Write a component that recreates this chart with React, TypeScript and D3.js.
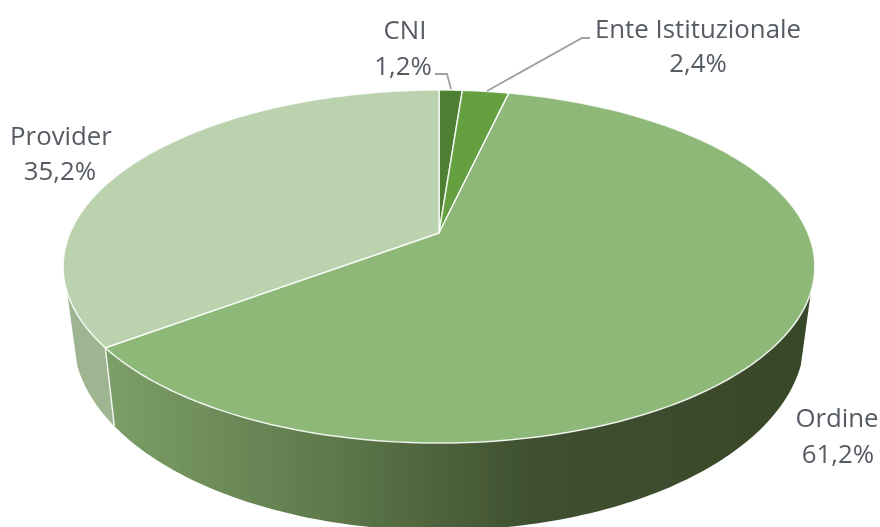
import React from "react";
import * as d3 from "d3";

const categories = ["CNI", "Ente Istituzionale", "Ordine", "Provider"];
const values = [1.2, 2.4, 61.2, 35.2];
const valueLabels = ["1,2%", "2,4%", "61,2%", "35,2%"];
const colors = ["#4f7f30", "#65a03f", "#8db878", "#bad2ae"];
const labelPos: [number, number, number, number][] = [
  [405, 39, 403, 75],
  [698, 38, 698, 72],
  [837, 427, 838, 463],
  [61, 145, 60, 180],
];

const W = 880, H = 527;
const CX = 439, D = 369, A = 125.9, B = 233, C = -0.19;
const SX = 0.973, SY = 1.095, OY = 45.3;
const WALL_START = (109 * Math.PI) / 180;
const WALL_END = (251 * Math.PI) / 180;

type P = [number, number];
const top = (t: number): P => {
  const u = -Math.cos(t);
  const w = 1 + C * u;
  return [CX + (D * Math.sin(t)) / w, (A * u + B) / w];
};
const bottom = (t: number): P => {
  const [x, y] = top(t);
  return [CX + (x - CX) * SX, y * SY + OY];
};
const line = d3.line<P>();
const samples = (a: number, b: number) =>
  d3.range(0, 121).map((i) => a + ((b - a) * i) / 120);

export default function App() {
  const arcs = d3.pie<number>().sort(null)(values);
  const wall = (a: number, b: number) => {
    const ts = samples(a, b);
    return line([...ts.map(top), ...ts.slice().reverse().map(bottom)]) + "Z";
  };
  const ordine = arcs[2];
  const provider = arcs[3];
  const font = "'Open Sans', sans-serif";
  return (
    <svg
      width={W}
      height={H}
      style={{ position: "absolute", left: 0, top: 0, background: "#fff" }}
    >
      <defs>
        <linearGradient id="wallG" gradientUnits="userSpaceOnUse" x1={105} x2={813} y1={0} y2={0}>
          <stop offset="0" stopColor="#7c9f68" />
          <stop offset="0.33" stopColor="#5d784a" />
          <stop offset="0.6" stopColor="#3f5030" />
          <stop offset="1" stopColor="#38482a" />
        </linearGradient>
        <filter id="soft" x="-5%" y="-5%" width="110%" height="110%">
          <feGaussianBlur stdDeviation="0.6" />
        </filter>
      </defs>
      <g filter="url(#soft)">
        <path d={wall(WALL_START, ordine.endAngle)} fill="url(#wallG)" />
        <path d={wall(provider.startAngle, WALL_END)} fill="#9db590" />
        <path d={line([top(ordine.endAngle), bottom(ordine.endAngle)]) ?? ""} stroke="#fff" strokeWidth={1.5} opacity={0.85} fill="none" />
        {arcs.map((a, i) => (
          <path
            key={categories[i]}
            d={line([[CX, B], ...samples(a.startAngle, a.endAngle).map(top)]) + "Z"}
            fill={colors[i]}
            stroke="#fff"
            strokeOpacity={0.85}
            strokeWidth={1.5}
            strokeLinejoin="round"
          />
        ))}
        <path d="M435 74H447L451 89" fill="none" stroke="#a0a0a0" strokeWidth={1.8} />
        <path d="M487 91L582 38H590" fill="none" stroke="#a0a0a0" strokeWidth={1.8} />
        {categories.map((c, i) => {
          const [x1, y1, x2, y2] = labelPos[i];
          return (
            <g key={c} fontFamily={font} fontSize={25.8} fill="#565b63" textAnchor="middle">
              <text x={x1} y={y1}>{c}</text>
              <text x={x2} y={y2}>{valueLabels[i]}</text>
            </g>
          );
        })}
      </g>
    </svg>
  );
}
